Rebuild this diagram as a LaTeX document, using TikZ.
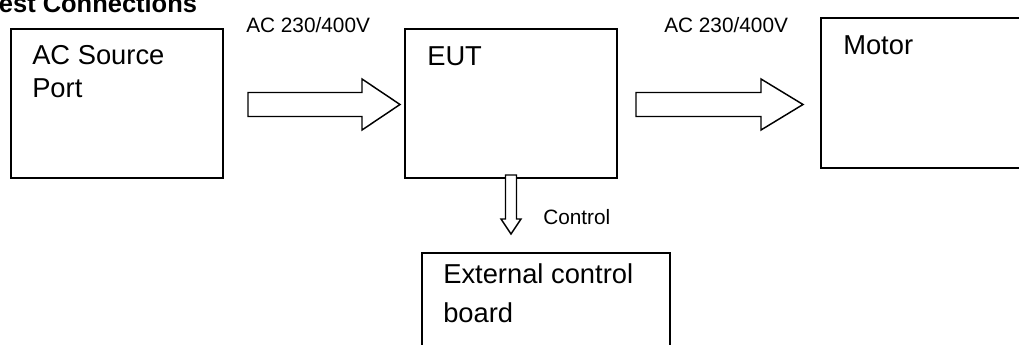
\documentclass[tikz,border=0pt]{standalone}
\usepackage{fontspec}
\setmainfont{Liberation Sans}
\begin{document}
\begin{tikzpicture}[x=0.75pt,y=-0.75pt,
  blk/.style={draw,line width=1.1pt,line join=miter,fill=white},
  frame/.style={line width=1.1pt},
  big/.style={font=\fontsize{20.5}{24.75}\selectfont,inner sep=0pt,align=left},
  small/.style={font=\fontsize{15.6}{18}\selectfont,inner sep=0pt},
  ttl/.style={font=\fontsize{19.1}{22}\selectfont\bfseries,inner sep=0pt}]
\useasboundingbox (0,0) rectangle (1019,345);
\clip (0,0) rectangle (1019,345);
% title
\node[ttl,anchor=base west] (title) at (-15,12.5) {Test Connections};
% boxes
\draw[frame] (11,29) rectangle (223,178);
\draw[frame] (405,29) rectangle (617,178);
\draw[frame] (1030,18) -- (821,18) -- (821,168) -- (1030,168);
\draw[frame] (422,360) -- (422,253) -- (670,253) -- (670,360);
% texts
\node[big,anchor=base west] (srctxt) at (32,98) {AC Source\\Port};
\node[big,anchor=base west] (euttxt) at (427,66) {EUT};
\node[big,anchor=base west] (mottxt) at (843,55) {Motor};
\node[big,anchor=base west,font=\fontsize{20.5}{29.25}\selectfont] (exttxt) at (443,322) {External control\\board};
\node[small,anchor=base west] (lab1) at (246,33) {AC 230/400V};
\node[small,anchor=base west] (lab2) at (664,33) {AC 230/400V};
\node[small,anchor=base west] (lab3) at (543,224) {Control};
% block arrows
\draw[blk] (248,92.5) -- (362,92.5) -- (362,79) -- (400,104.5) -- (362,130) -- (362,116.5) -- (248,116.5) -- cycle;
\draw[blk] (636,92.5) -- (761,92.5) -- (761,79) -- (803,104.5) -- (761,130) -- (761,116.5) -- (636,116.5) -- cycle;
\draw[blk] (505.5,175) -- (516.5,175) -- (516.5,219) -- (521,219) -- (511,234) -- (501,219) -- (505.5,219) -- cycle;
\end{tikzpicture}
\end{document}
